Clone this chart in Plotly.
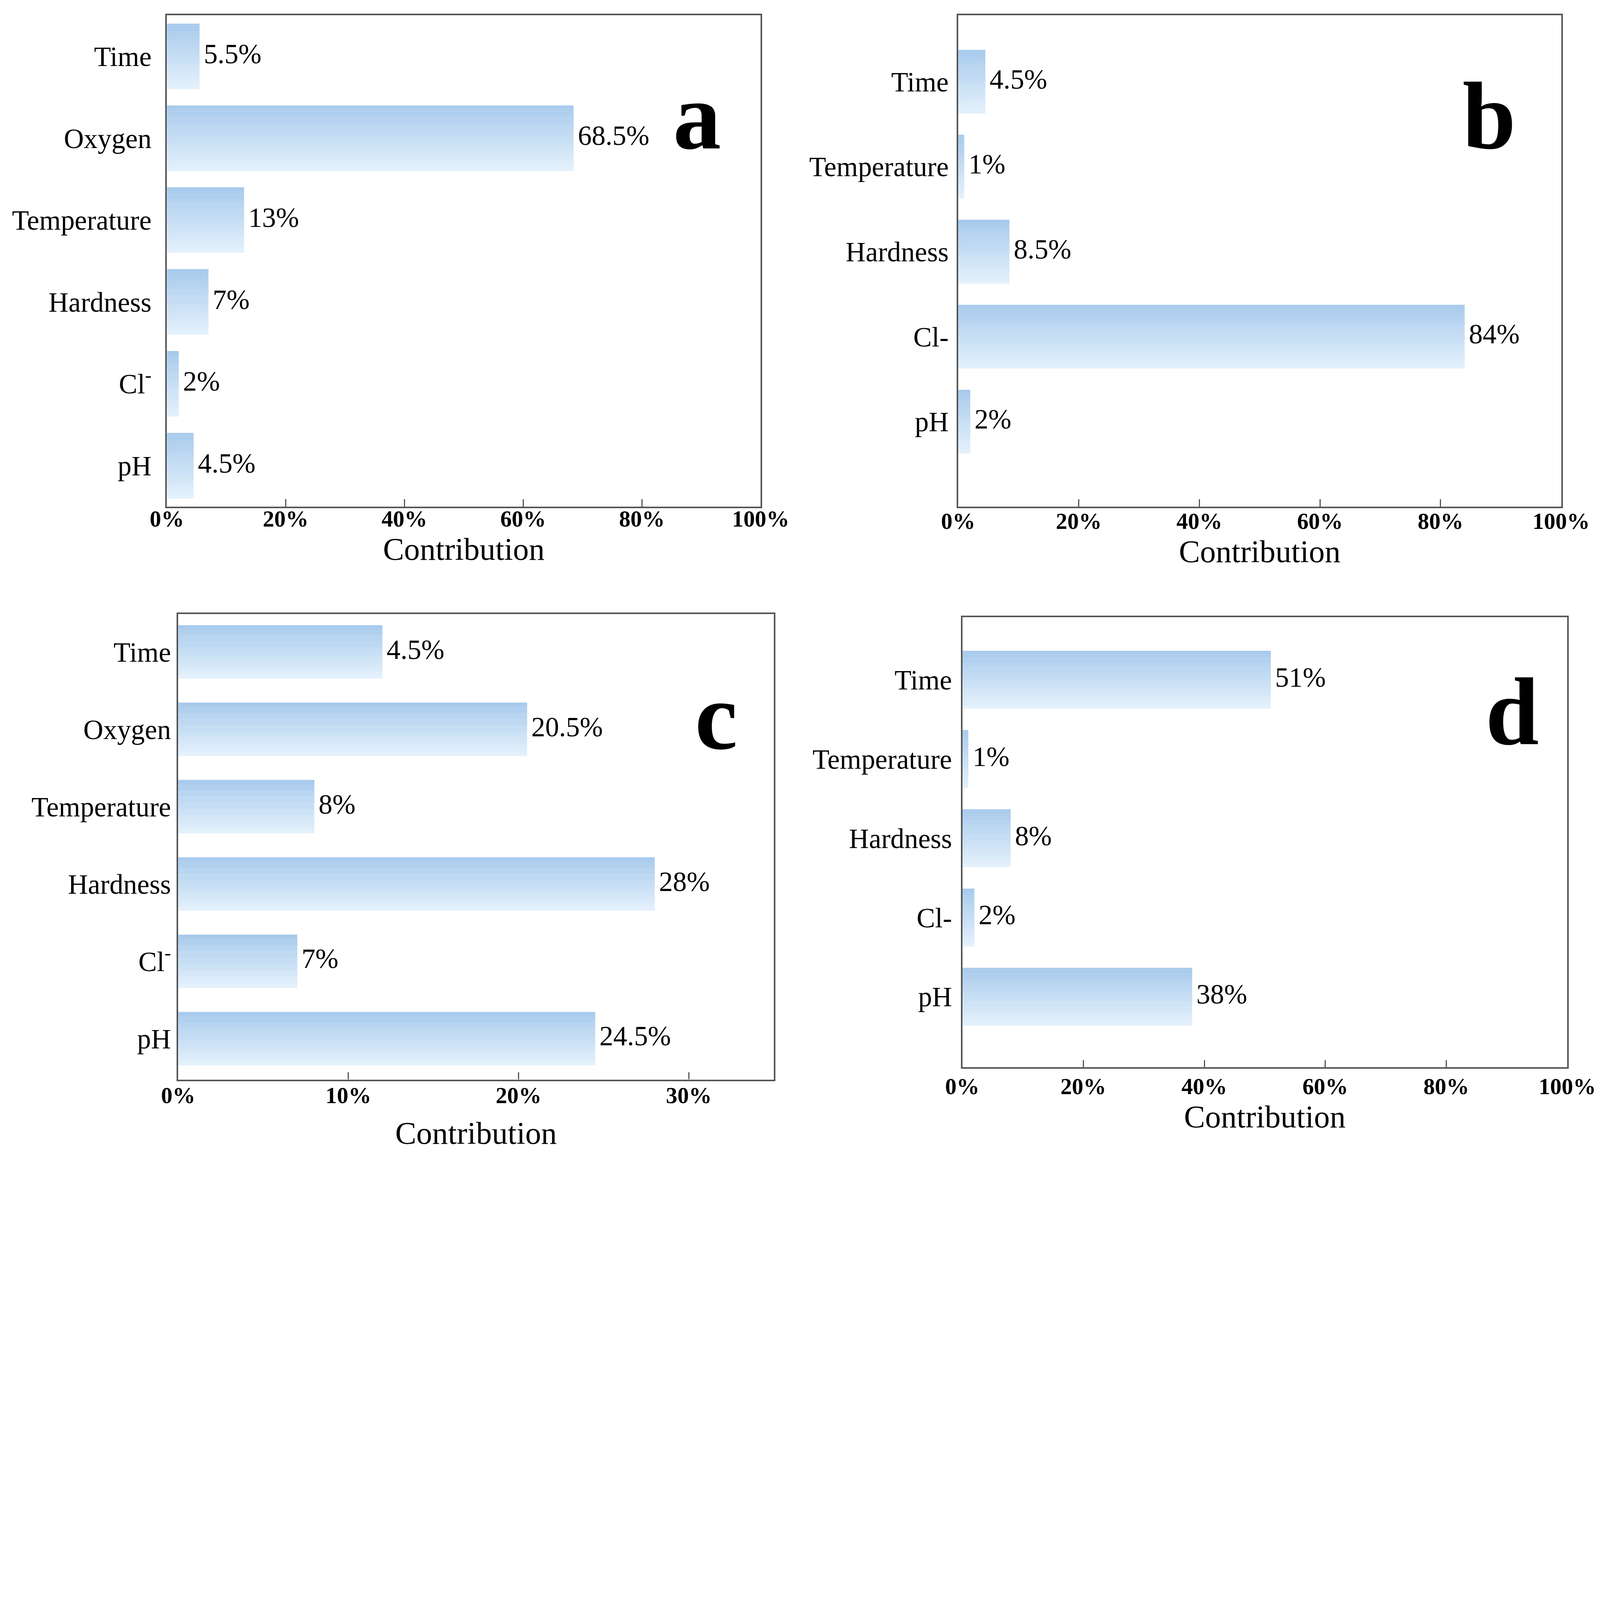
import plotly.graph_objects as go

FONT = "Liberation Serif"

# ---------------- data ----------------
cats_a = ["Time", "Oxygen", "Temperature", "Hardness", "Cl<sup>-</sup>", "pH"]
vals_a = [5.5, 68.5, 13, 7, 2, 4.5]
text_a = ["5.5%", "68.5%", "13%", "7%", "2%", "4.5%"]

cats_b = ["Time", "Temperature", "Hardness", "Cl-", "pH"]
vals_b = [4.5, 1, 8.5, 84, 2]
text_b = ["4.5%", "1%", "8.5%", "84%", "2%"]

cats_c = ["Time", "Oxygen", "Temperature", "Hardness", "Cl<sup>-</sup>", "pH"]
vals_c = [12, 20.5, 8, 28, 7, 24.5]
text_c = ["4.5%", "20.5%", "8%", "28%", "7%", "24.5%"]

cats_d = ["Time", "Temperature", "Hardness", "Cl-", "pH"]
vals_d = [51, 1, 8, 2, 38]
text_d = ["51%", "1%", "8%", "2%", "38%"]

ticks_100 = [0, 20, 40, 60, 80, 100]
ticks_35 = [0, 10, 20, 30]
ticktext_100 = ["0%", "20%", "40%", "60%", "80%", "100%"]
ticktext_35 = ["0%", "10%", "20%", "30%"]

panel_letters = ["a", "b", "c", "d"]
axis_title = "Contribution"

# ---------------- style / layout ----------------
REF_W, REF_H = 7336, 5301
W = 4096                      # browser viewport is 4096 px wide
S = W / REF_W                 # scale every pixel size from reference units
H = round(REF_H * S)
DW, DH = 1563.0, 1130.0       # reference preview coordinates

panels = [
    dict(cats=cats_a, vals=vals_a, text=text_a, ticks=ticks_100, ticktext=ticktext_100,
         xr=[0, 100], frame=(160, 740, 12, 492), yr=[5.5, -0.5], bw=0.8,
         letter=(0.893, 0.795), sy=37, sx=-42, st=20),
    dict(cats=cats_b, vals=vals_b, text=text_b, ticks=ticks_100, ticktext=ticktext_100,
         xr=[0, 100], frame=(933, 1522, 12, 492), yr=[5.0, -0.78], bw=0.75,
         letter=(0.881, 0.795), sy=11, sx=-30, st=22),
    dict(cats=cats_c, vals=vals_c, text=text_c, ticks=ticks_35, ticktext=ticktext_35,
         xr=[0, 35], frame=(171, 753, 597, 1052), yr=[5.53, -0.49], bw=0.69,
         letter=(0.903, 0.78), sy=0, sx=-25, st=65),
    dict(cats=cats_d, vals=vals_d, text=text_d, ticks=ticks_100, ticktext=ticktext_100,
         xr=[0, 100], frame=(937, 1528, 600, 1040), yr=[4.89, -0.79], bw=0.73,
         letter=(0.909, 0.79), sy=15, sx=-11, st=29),
]

TOP = (167, 202, 236)
BOT = (228, 241, 252)
NSTRIP = 32
LINE_C = "#555555"

fig = go.Figure()
layout = dict(
    template="none",
    width=W, height=H, autosize=False, margin=dict(l=0, r=0, t=0, b=0, pad=0),
    paper_bgcolor="white", plot_bgcolor="white",
    barmode="overlay", showlegend=False, annotations=[],
)

for k, p in enumerate(panels):
    n = "" if k == 0 else str(k + 1)
    xa, ya = "x" + n, "y" + n
    bw = p["bw"]
    for i in range(NSTRIP):
        t = i / (NSTRIP - 1)
        col = "rgb(%d,%d,%d)" % tuple(round(TOP[j] + (BOT[j] - TOP[j]) * t) for j in range(3))
        fig.add_trace(go.Bar(
            x=p["vals"], y=p["cats"], orientation="h",
            width=bw / NSTRIP * 1.04, offset=-bw / 2 + i * bw / NSTRIP,
            marker=dict(color=col, line=dict(width=0)),
            xaxis=xa, yaxis=ya, hoverinfo="skip",
        ))
    fig.add_trace(go.Scatter(
        x=p["vals"], y=p["cats"], mode="markers+text", text=p["text"],
        textposition="middle right",
        marker=dict(size=14 * S * 2, color="rgba(0,0,0,0)"),
        textfont=dict(family=FONT, size=127 * S, color="black"),
        xaxis=xa, yaxis=ya, cliponaxis=False, hoverinfo="skip",
    ))
    x0, x1, y0, y1 = p["frame"]
    layout["xaxis" + n] = dict(
        domain=[x0 / DW, x1 / DW], anchor=ya, range=p["xr"], automargin=False,
        tickmode="array", tickvals=p["ticks"], ticktext=p["ticktext"],
        ticks="inside", ticklen=33 * S, tickwidth=5 * S, tickcolor=LINE_C,
        showline=True, mirror=True, linecolor=LINE_C, linewidth=8 * S,
        showgrid=False, zeroline=False, ticklabelstandoff=round(p["sx"] * S),
        tickfont=dict(family=FONT, size=105 * S, color="black", weight="bold"),
        title=dict(text=axis_title, font=dict(family=FONT, size=145 * S, color="black"),
                   standoff=p["st"] * S),
    )
    layout["yaxis" + n] = dict(
        domain=[1 - y1 / DH, 1 - y0 / DH], anchor=xa, automargin=False,
        type="category", categoryorder="array", categoryarray=p["cats"],
        range=p["yr"], ticks="", showgrid=False, zeroline=False,
        showline=True, mirror=True, linecolor=LINE_C, linewidth=8 * S,
        ticklabelstandoff=round(p["sy"] * S),
        tickfont=dict(family=FONT, size=127 * S, color="black"),
    )
    layout["annotations"].append(dict(
        text=panel_letters[k], xref=xa + " domain", yref=ya + " domain",
        x=p["letter"][0], y=p["letter"][1], xanchor="center", yanchor="middle",
        showarrow=False, font=dict(family=FONT, size=440 * S, color="black", weight="bold"),
    ))

fig.update_layout(**layout)
fig.write_html("out.html")
